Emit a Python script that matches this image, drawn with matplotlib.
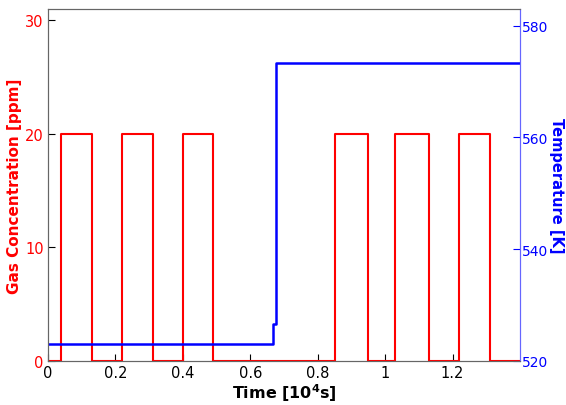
import matplotlib
matplotlib.use("Agg")
from matplotlib import pyplot as plt

# gas pulses: (start, end) in 10^4 s, concentration in ppm
pulse_start = [0.04, 0.22, 0.40, 0.85, 1.03, 1.22]
pulse_end = [0.13, 0.31, 0.49, 0.95, 1.13, 1.31]
pulse_level = 20

# temperature program (step changes)
temp_time = [0.0, 0.667, 0.667, 0.677, 0.677, 1.4]
temp_value = [523, 523, 526.7, 526.7, 573.4, 573.4]

x_ticks = [0, 0.2, 0.4, 0.6, 0.8, 1, 1.2]
x_labels = ['0', '0.2', '0.4', '0.6', '0.8', '1', '1.2']
gas_ticks = [0, 10, 20, 30]
temp_ticks = [520, 540, 560, 580]


def pulse_trace(starts, ends, level, t_max):
    t, c = [0.0], [0.0]
    for s, e in zip(starts, ends):
        t += [s, s, e, e]
        c += [0, level, level, 0]
    t.append(t_max)
    c.append(0)
    return t, c


fig = plt.figure(figsize=(5.66, 4.06), dpi=100)
ax = fig.add_axes([0.0848, 0.1084, 0.8339, 0.867])
ax2 = ax.twinx()

t, c = pulse_trace(pulse_start, pulse_end, pulse_level, 1.4)
ax.plot(t, c, color='red', lw=1.5, zorder=3)
ax2.plot(temp_time, temp_value, color='blue', lw=1.8)

ax.set_xlim(0, 1.4)
ax.set_ylim(0, 31)
ax2.set_ylim(520, 583)

ax.set_xticks(x_ticks)
ax.set_xticklabels(x_labels)
ax.set_yticks(gas_ticks)
ax2.set_yticks(temp_ticks)

ax.tick_params(axis='x', direction='in', length=5, labelsize=10.5, colors='black', pad=3)
ax.tick_params(axis='y', direction='in', length=5, labelsize=10.5, color='black', labelcolor='red', pad=3)
ax2.tick_params(axis='y', direction='in', length=5, labelsize=10, color='blue', labelcolor='blue', pad=1.5)

for a in (ax, ax2):
    for side in ('left', 'top', 'bottom'):
        a.spines[side].set_color('#666666')
    a.spines['right'].set_color('#6666ff')

ax.set_xlabel('Time [10$^\\mathbf{4}$s]', fontsize=11.5, fontweight='bold', labelpad=1)
ax.set_ylabel('Gas Concentration [ppm]', fontsize=11, fontweight='bold', color='red', labelpad=2)
ax2.set_ylabel('Temperature [K]', fontsize=10.5, fontweight='bold', color='blue', rotation=270, labelpad=11)

fig.savefig('out.png', dpi=100)
